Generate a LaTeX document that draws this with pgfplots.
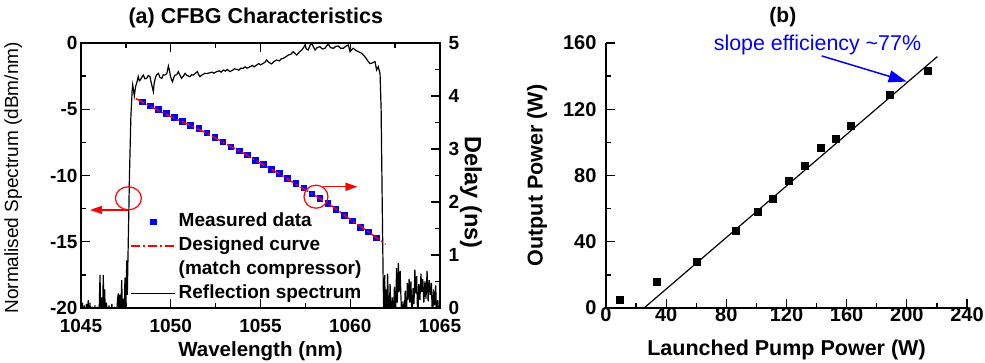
\documentclass[border=0pt]{standalone}
\usepackage{fontspec}
\setmainfont{Liberation Sans}
\usepackage{pgfplots}
\pgfplotsset{compat=1.18}
\usetikzlibrary{arrows.meta}
\newcommand{\fs}[1]{\fontsize{#1}{#1}\selectfont}
\begin{document}
\begin{tikzpicture}
\path[use as bounding box] (0,0) rectangle (985pt,363pt);
\pgfplotsset{
  common/.style={
    scale only axis, anchor=south west, height=265pt,
    /pgf/number format/assume math mode=true,
    /pgf/number format/1000 sep={},
    axis line style={line width=1.4pt},
    major tick style={line width=1.3pt, black},
    minor tick style={line width=1.3pt, black},
    major tick length=9pt, minor tick length=5pt,
    tick align=inside,
  }
}
% ---------------- panel (a), left axis: spectrum
\begin{axis}[common, at={(81pt,55pt)}, width=359pt,
  xmin=1045, xmax=1065, ymin=-20, ymax=0,
  xtick={1045,1050,...,1065}, ytick={-20,-15,...,0},
  minor x tick num=1, minor y tick num=1,
  ytick pos=left,
  ticklabel style={font=\bfseries\fs{19}},
  xticklabel style={yshift=-8pt},
  xlabel={Wavelength (nm)},
  ylabel={Normalised Spectrum (dBm/nm)},
  title={(a) CFBG Characteristics},
  every axis x label/.style={at={(axis description cs:0.5,-0.164)}, anchor=center, font=\bfseries\fs{20.5}},
  every axis y label/.style={at={(axis description cs:-0.189,0.491)}, anchor=center, rotate=90, font=\fs{19}},
  every axis title/.style={at={(axis description cs:0.487,1.094)}, anchor=center, font=\bfseries\fs{21.5}},
]
\addplot[black, line width=1.2pt] coordinates {
(1045.00,-19.0) (1045.04,-21) (1045.08,-19.6) (1045.12,-21) (1045.18,-19.8) (1045.22,-21)
(1045.30,-19.7) (1045.36,-21) (1045.40,-19.4) (1045.45,-21) (1045.50,-19.6) (1045.55,-21)
(1045.62,-19.9) (1045.70,-21) (1045.78,-19.8) (1045.85,-21) (1045.92,-19.9) (1046.00,-21)
(1046.06,-17.5) (1046.10,-21) (1046.15,-19.2) (1046.20,-21) (1046.24,-17.5) (1046.28,-20.5)
(1046.32,-18.6) (1046.36,-21) (1046.42,-19.6) (1046.48,-21) (1046.56,-19.8) (1046.64,-21)
(1046.72,-19.7) (1046.80,-21) (1046.88,-19.9) (1046.96,-21) (1047.04,-19.3) (1047.08,-18.9)
(1047.12,-21) (1047.16,-19.0) (1047.20,-21) (1047.27,-17.9) (1047.31,-21) (1047.36,-19.3)
(1047.40,-21) (1047.45,-17.7) (1047.49,-20.5) (1047.55,-16.4) (1047.58,-19) (1047.62,-16)
(1047.70,-10) (1047.78,-5.5) (1047.85,-3.6) (1047.88,-3.17) (1047.93,-3.6) (1047.97,-4.0)
(1048.04,-3.3) (1048.10,-3.04) (1048.19,-2.54) (1048.25,-2.85) (1048.30,-2.8) (1048.38,-2.6)
(1048.47,-2.42) (1048.56,-2.7) (1048.66,-2.67) (1048.75,-2.45) (1048.84,-2.54) (1048.93,-3.1)
(1049.03,-3.67) (1049.08,-3.0) (1049.15,-2.6) (1049.22,-2.4) (1049.31,-2.29) (1049.40,-2.6)
(1049.50,-2.67) (1049.58,-2.4) (1049.68,-2.42) (1049.78,-2.3) (1049.87,-1.74) (1049.93,-2.1)
(1049.98,-2.5) (1050.05,-2.8) (1050.10,-2.92) (1050.17,-2.6) (1050.24,-2.42) (1050.33,-2.4)
(1050.42,-2.16) (1050.50,-2.4) (1050.60,-2.67) (1050.70,-2.5) (1050.80,-2.29) (1050.90,-2.45)
(1051.00,-2.5) (1051.07,-2.54) (1051.16,-2.4) (1051.26,-2.42) (1051.36,-2.3) (1051.48,-2.16)
(1051.56,-2.4) (1051.63,-2.54) (1051.75,-2.4) (1051.90,-2.29) (1052.05,-2.3) (1052.19,-2.24)
(1052.30,-2.2) (1052.40,-2.28) (1052.56,-2.16) (1052.70,-2.1) (1052.80,-2.2) (1052.93,-2.04)
(1053.05,-2.12) (1053.15,-2.0) (1053.30,-2.16) (1053.45,-2.05) (1053.55,-1.95) (1053.67,-1.99)
(1053.80,-2.05) (1053.90,-1.9) (1054.04,-1.91) (1054.15,-1.8) (1054.25,-1.9) (1054.42,-1.79)
(1054.55,-1.7) (1054.65,-1.8) (1054.79,-1.66) (1054.90,-1.55) (1055.00,-1.65) (1055.16,-1.53)
(1055.25,-1.45) (1055.34,-1.28) (1055.45,-1.45) (1055.62,-1.58) (1055.75,-1.4) (1055.90,-1.28)
(1056.05,-1.35) (1056.15,-1.2) (1056.27,-1.16) (1056.40,-1.05) (1056.55,-0.91) (1056.68,-0.85)
(1056.83,-0.66) (1056.93,-0.8) (1057.02,-0.91) (1057.15,-0.7) (1057.30,-0.53) (1057.40,-0.35)
(1057.48,-0.15) (1057.56,-0.45) (1057.66,-0.53) (1057.75,-0.2) (1057.85,-0.03) (1057.95,-0.3)
(1058.04,-0.53) (1058.15,-0.35) (1058.31,-0.28) (1058.45,-0.45) (1058.59,-0.4) (1058.70,-0.2)
(1058.78,-0.08) (1058.90,-0.35) (1059.06,-0.4) (1059.20,-0.25) (1059.33,-0.23) (1059.47,-0.4)
(1059.61,-0.4) (1059.75,-0.25) (1059.89,-0.15) (1059.99,-0.66) (1060.08,-0.5) (1060.17,-0.4)
(1060.30,-0.55) (1060.45,-0.66) (1060.60,-0.75) (1060.73,-0.91) (1060.85,-1.1) (1061.01,-1.41)
(1061.10,-1.55) (1061.19,-1.53) (1061.30,-1.45) (1061.38,-1.41) (1061.47,-2.04) (1061.52,-1.9)
(1061.56,-1.79) (1061.62,-2.1) (1061.66,-2.29) (1061.72,-5) (1061.78,-12) (1061.84,-18.5)
(1061.88,-21) (1061.92,-17.5) (1061.96,-21) (1062.00,-18.6) (1062.04,-21) (1062.08,-17.4)
(1062.12,-19.5) (1062.16,-21) (1062.22,-18.2) (1062.28,-21) (1062.34,-19.2) (1062.40,-21)
(1062.46,-18.4) (1062.52,-21) (1062.58,-17.0) (1062.62,-19.6) (1062.68,-16.6) (1062.72,-18.8)
(1062.78,-17.2) (1062.82,-19.0) (1062.88,-21) (1062.94,-19.5) (1063.00,-21) (1063.06,-18.7)
(1063.12,-21) (1063.18,-18.1) (1063.22,-19.4) (1063.28,-17.8) (1063.32,-19.6) (1063.38,-18.0)
(1063.44,-21) (1063.50,-18.5) (1063.55,-19.7) (1063.60,-17.1) (1063.65,-18.9) (1063.70,-17.6)
(1063.76,-21) (1063.82,-18.2) (1063.88,-19.4) (1063.94,-17.4) (1063.98,-18.8) (1064.04,-17.8)
(1064.10,-19.6) (1064.16,-18.0) (1064.22,-19.3) (1064.28,-17.2) (1064.34,-19.5) (1064.40,-17.9)
(1064.46,-19.0) (1064.52,-18.1) (1064.58,-21) (1064.64,-18.6) (1064.70,-19.8) (1064.76,-18.3)
(1064.82,-21) (1064.88,-19.4) (1064.94,-21) (1065.00,-19.9)
};
% annotations
\draw[red, line width=1.2pt] (axis cs:1047.64,-11.72) ellipse [x radius=13pt, y radius=11.5pt];
\draw[red, line width=1.2pt, -{Triangle[length=12pt,width=8pt]}] (axis cs:1047.64,-12.6) -- (axis cs:1045.5,-12.6);
\draw[red, line width=1.2pt, -{Triangle[length=12pt,width=8pt]}] (axis cs:1058.5,-10.85) -- (axis cs:1060.4,-10.85);
\end{axis}
% ---------------- panel (a), right axis: delay
\begin{axis}[common, at={(81pt,55pt)}, width=359pt,
  xmin=1045, xmax=1065, ymin=0, ymax=5,
  hide x axis, axis y line*=right,
  clip marker paths=true,
  ytick={0,1,...,5}, minor y tick num=1,
  ticklabel style={font=\bfseries\fs{19}},
  yticklabel style={xshift=5pt},
  ylabel={Delay (ns)},
  every axis y label/.style={at={(axis description cs:1.086,0.436)}, anchor=center, rotate=-90, font=\bfseries\fs{23.5}},
  legend style={at={(rel axis cs:0.1365,0.371)}, anchor=north west, draw=none, fill=none,
    inner sep=0pt, font=\bfseries\fs{19},
    nodes={inner sep=3pt, text height=14pt, text depth=4pt}},
  legend cell align=left,
  legend image code/.code={\draw[mark repeat=2,mark phase=2,#1] plot coordinates {(0pt,0pt) (22pt,0pt) (44pt,0pt)};},
]
\addplot[only marks, mark=square*, mark size=2.8pt, color=blue, mark options={draw=blue, fill=blue}] coordinates {
(1048.40,3.89) (1048.85,3.82) (1049.30,3.75) (1049.75,3.67) (1050.20,3.60) (1050.65,3.53)
(1051.10,3.45) (1051.55,3.39) (1052.00,3.31) (1052.45,3.22) (1052.90,3.14) (1053.35,3.04)
(1053.80,2.97) (1054.25,2.89) (1054.70,2.79) (1055.15,2.71) (1055.60,2.62) (1056.05,2.54)
(1056.50,2.45) (1056.95,2.35) (1057.40,2.27) (1057.85,2.16) (1058.30,2.07) (1058.75,1.98)
(1059.20,1.86) (1059.65,1.75) (1060.10,1.65) (1060.55,1.53) (1061.00,1.44) (1061.45,1.33)
};
\addlegendentry{Measured data}
\addplot[red, line width=1.5pt, dash pattern=on 9pt off 3pt on 2pt off 3pt] coordinates {
(1048.06,3.95) (1049,3.78) (1050,3.61) (1051,3.46) (1052,3.30) (1053,3.11) (1054,2.93)
(1055,2.73) (1056,2.54) (1057,2.33) (1058,2.13) (1059,1.92) (1060,1.67) (1061,1.44) (1061.97,1.20)
};
\addlegendentry{Designed curve}
\addlegendimage{empty legend}
\addlegendentry{(match compressor)}
\addlegendimage{black, line width=1.2pt}
\addlegendentry{Reflection spectrum}
\draw[red, line width=1.2pt] (axis cs:1058.09,2.1) ellipse [x radius=12pt, y radius=11.5pt];
\end{axis}
% ---------------- panel (b)
\begin{axis}[common, at={(606pt,55pt)}, width=361pt,
  xmin=0, xmax=240, ymin=0, ymax=160,
  axis x line*=bottom, axis y line*=left,
  xtick={0,40,...,240}, ytick={0,40,...,160},
  minor x tick num=1, minor y tick num=1,
  clip=false,
  ticklabel style={font=\bfseries\fs{20}},
  xticklabel style={yshift=4pt},
  yticklabel style={xshift=-6pt},
  xlabel={Launched Pump Power (W)},
  ylabel={Output Power (W)},
  title={(b)},
  every axis x label/.style={at={(axis description cs:0.5,-0.158)}, anchor=center, font=\bfseries\fs{21.5}},
  every axis y label/.style={at={(axis description cs:-0.191,0.5)}, anchor=center, rotate=90, font=\bfseries\fs{21.5}},
  every axis title/.style={at={(axis description cs:0.49,1.098)}, anchor=center, font=\bfseries\fs{21}},
]
\addplot[only marks, mark=square*, mark size=3.5pt, color=black] coordinates {
(9,5) (34,16) (60,28) (86,46.5) (101,58) (111,66) (121.5,77) (132,86) (142.5,97)
(152.5,102.5) (163,110) (188.5,128.5) (214,143)
};
\addplot[black, line width=1.2pt] coordinates {(25.3,0) (220.3,151.8)};
\node[blue, font=\fs{21.4}, anchor=center] at (axis cs:140.6,158.8) {slope efficiency \textasciitilde77\%};
\draw[blue, line width=1.5pt, -{Triangle[length=18pt,width=12pt]}] (axis cs:143.4,152.2) -- (axis cs:199.9,136.7);
\end{axis}
\end{tikzpicture}
\end{document}
